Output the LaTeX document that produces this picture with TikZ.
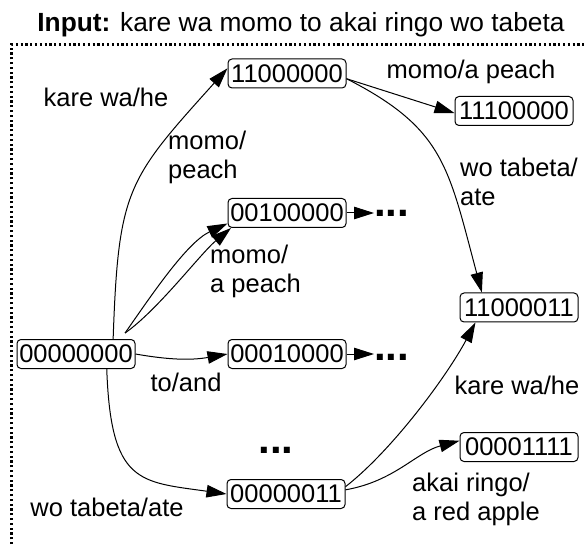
\documentclass[tikz,border=0pt]{standalone}
\usepackage{fontspec}
\setmainfont{Liberation Sans}
\usetikzlibrary{arrows.meta}
\begin{document}
\begin{tikzpicture}[x=1pt,y=1pt,
  every node/.style={font=\fontsize{25.5}{29}\selectfont},
  state/.style={draw, rounded corners=4pt, line width=1pt, minimum width=118pt, minimum height=29pt, inner sep=0pt},
  lbl/.style={inner sep=0pt, align=left},
  dotsn/.style={inner sep=0pt, font=\fontsize{42}{42}\selectfont\bfseries},
  arr/.style={line width=1pt, -{Triangle[length=20pt,width=12.5pt]}},
  framelines/.style={line width=2.2pt, dash pattern=on 2.2pt off 2.6pt}]
\useasboundingbox (0,0) rectangle (586,544);
\node[anchor=base, font=\fontsize{26.3}{30}\selectfont] (title) at (301,512) {\textbf{Input:} kare wa momo to akai ringo wo tabeta};
\draw[framelines] (11.5,-5) -- (11.5,499.5) -- (592,499.5);
% states
\node[state] (n0) at (76,190) {00000000};
\node[state] (n1) at (287,470.5) {11000000};
\node[state] (n2) at (287,331) {00100000};
\node[state] (n3) at (514,433) {11100000};
\node[state] (n4) at (287,190) {00010000};
\node[state] (n5) at (519,236.5) {11000011};
\node[state] (n6) at (286,50) {00000011};
\node[state] (n7) at (519,97) {00001111};
% dots
\node[dotsn, anchor=west] (d1) at (374,331) {...};
\node[dotsn, anchor=west] (d2) at (374,187) {...};
\node[dotsn] (d3) at (276,94) {...};
% labels
\node[lbl] (l1) at (106,447) {kare wa/he};
\node[lbl, anchor=west] (l2) at (168,386.5) {momo/\\peach};
\node[lbl, anchor=west] (l3) at (210,273) {momo/\\a peach};
\node[lbl] (l4) at (186,162) {to/and};
\node[lbl] (l5) at (107,37) {wo tabeta/ate};
\node[lbl] (l6) at (471,472) {momo/a peach};
\node[lbl, anchor=west] (l7) at (460,362) {wo tabeta/\\ate};
\node[lbl] (l8) at (517,159) {kare wa/he};
\node[lbl, anchor=west] (l9) at (412,45) {akai ringo/\\a red apple};
% edges
\draw[arr] (n0.22) .. controls +(88:150) and +(228:150) .. (n1.175);
\draw[arr] ([yshift=6pt]n0.17) .. controls +(55:45) and +(205:45) .. (n2.190);
\draw[arr] ([yshift=6pt]n0.17) .. controls +(35:40) and +(220:40) .. (n2.195);
\draw[arr] (n0.east) to[bend right=10] (n4.west);
\draw[arr] (n0.-26) .. controls +(-88:115) and +(172:88) .. (n6.west);
\draw[arr] (n1.-5) -- (n3.182);
\draw[arr] (n1.-5) .. controls +(-27:110) and +(105:130) .. (n5.158);
\draw[arr] (n6.7) .. controls +(38:60) and +(242:60) .. (n5.199);
\draw[arr] (n6.4) .. controls +(10:50) and +(195:45) .. (n7.174);
\draw[arr] (n2.east) -- (d1.west);
\draw[arr] (n4.east) -- (n4.east -| d2.west);
\end{tikzpicture}
\end{document}
